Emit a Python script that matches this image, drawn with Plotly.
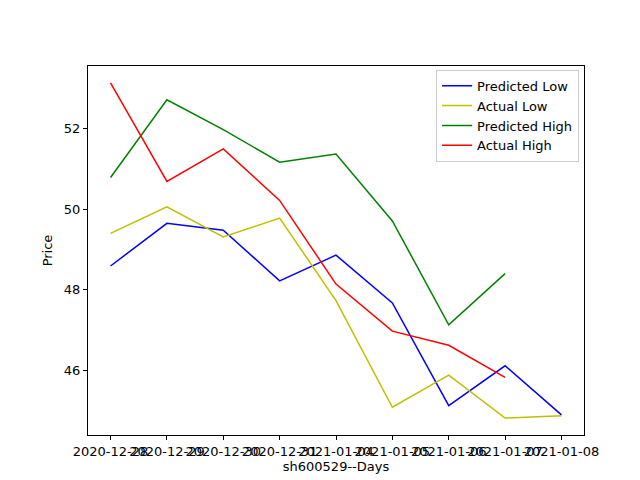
import plotly.graph_objects as go

days = ["2020-12-28", "2020-12-29", "2020-12-30", "2020-12-31", "2021-01-04",
        "2021-01-05", "2021-01-06", "2021-01-07", "2021-01-08"]
pred_low = [48.59, 49.65, 49.48, 48.22, 48.86, 47.67, 45.12, 46.11, 44.89]
act_low = [49.40, 50.06, 49.31, 49.78, 47.73, 45.08, 45.88, 44.81, 44.87]
pred_high = [50.79, 52.72, 51.98, 51.17, 51.37, 49.71, 47.13, 48.40]
act_high = [53.14, 50.69, 51.50, 50.22, 48.14, 46.97, 46.62, 45.82]

x = list(range(len(days)))
fig = go.Figure()
fig.add_trace(go.Scatter(x=x, y=pred_low, mode="lines", name="Predicted Low", line=dict(color="blue", width=1.5)))
fig.add_trace(go.Scatter(x=x, y=act_low, mode="lines", name="Actual Low", line=dict(color="#bfbf00", width=1.5)))
fig.add_trace(go.Scatter(x=x[:len(pred_high)], y=pred_high, mode="lines", name="Predicted High", line=dict(color="green", width=1.5)))
fig.add_trace(go.Scatter(x=x[:len(act_high)], y=act_high, mode="lines", name="Actual High", line=dict(color="red", width=1.5)))

axis = dict(showgrid=False, zeroline=False, showline=True, mirror=True, linecolor="black",
            linewidth=1, ticks="outside", ticklen=4, tickcolor="black", automargin=False)
fig.update_layout(
    width=640, height=480, plot_bgcolor="white", paper_bgcolor="white",
    margin=dict(l=80, r=64, t=58, b=53),
    font=dict(family="DejaVu Sans", size=13, color="black"),
    xaxis=dict(axis, tickvals=x, ticktext=days, tickangle=0, range=[-0.4, 8.4],
               title=dict(text="sh600529--Days", standoff=4, font=dict(size=13))),
    yaxis=dict(axis, tickvals=[46, 48, 50, 52], range=[44.39, 53.56],
               title=dict(text="Price", standoff=8, font=dict(size=13))),
    legend=dict(x=0.99, y=0.99, xanchor="right", yanchor="top", bordercolor="#cccccc",
                borderwidth=1, bgcolor="rgba(255,255,255,0.8)", font=dict(size=13)),
)
fig.write_html("out.html")
